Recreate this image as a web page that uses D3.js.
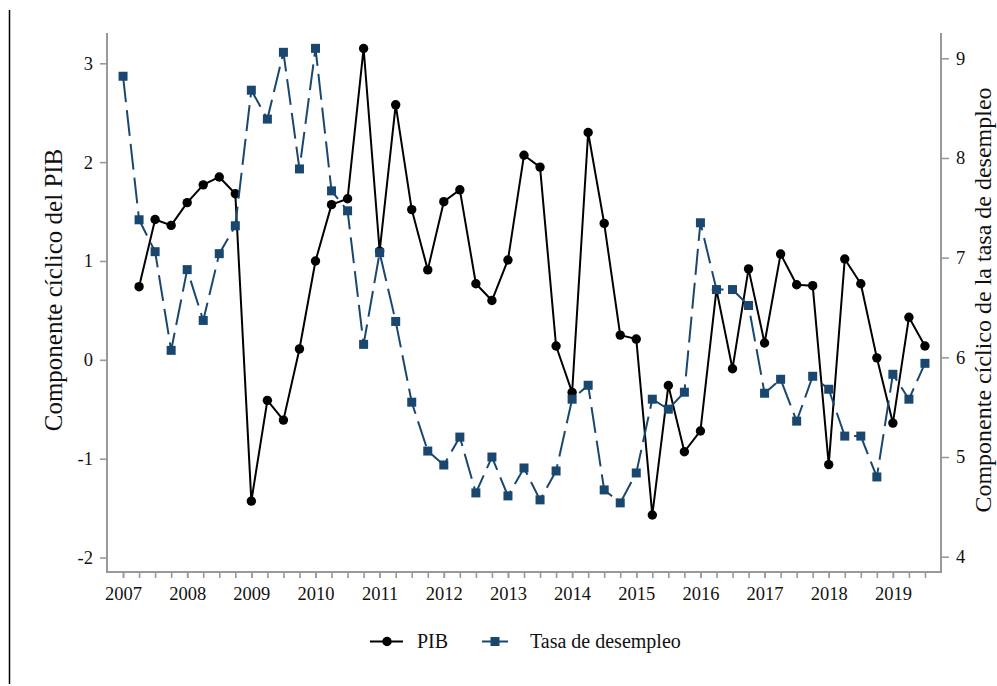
<!DOCTYPE html>
<html>
<head>
<meta charset="utf-8">
<script src="https://cdn.jsdelivr.net/npm/d3@7"></script>
<style>
  html, body { margin: 0; padding: 0; background: #fff; }
  svg { display: block; }
  text { font-family: "Liberation Serif", "Times New Roman", serif; fill: #111; }
</style>
</head>
<body>
<svg id="chart" width="997" height="686"></svg>
<script>
// Quarterly periods (decimal years)
const pibStart = 2007.25;
const desStart = 2007.0;

// Cyclical component of GDP (left axis)
const pibValues = [
  0.74, 1.42, 1.36, 1.59, 1.77, 1.85, 1.68,
  -1.43, -0.41, -0.61, 0.11,
  1.00, 1.57, 1.63, 3.15,
  1.10, 2.58, 1.52, 0.91,
  1.60, 1.72, 0.77, 0.60,
  1.01, 2.07, 1.95, 0.14,
  -0.33, 2.30, 1.38, 0.25,
  0.21, -1.57, -0.26, -0.93,
  -0.72, 0.71, -0.09, 0.92,
  0.17, 1.07, 0.76, 0.75,
  -1.06, 1.02, 0.77, 0.02,
  -0.64, 0.43, 0.14
];

// Cyclical component of the unemployment rate (right axis)
const desValues = [
  8.82, 7.38, 7.06, 6.07,
  6.88, 6.37, 7.04, 7.32,
  8.68, 8.39, 9.06, 7.89,
  9.10, 7.67, 7.47, 6.13,
  7.05, 6.36, 5.55, 5.06,
  4.92, 5.20, 4.64, 5.00,
  4.61, 4.89, 4.57, 4.86,
  5.58, 5.72, 4.67, 4.54,
  4.84, 5.58, 5.48, 5.65,
  7.35, 6.68, 6.68, 6.52,
  5.64, 5.78, 5.36, 5.81,
  5.68, 5.21, 5.21, 4.80,
  5.83, 5.58, 5.94
];

const yearTicks = d3.range(2007, 2020);
const quarterTicks = d3.range(2007, 2019.51, 0.25);
const leftTicks = [-2, -1, 0, 1, 2, 3];
const rightTicks = [4, 5, 6, 7, 8, 9];

const titleLeft = "Componente cíclico del PIB";
const titleRight = "Componente cíclico de la tasa de desempleo";
const legendLabels = ["PIB", "Tasa de desempleo"];

const pib = pibValues.map((v, i) => ({ t: pibStart + i * 0.25, v }));
const des = desValues.map((v, i) => ({ t: desStart + i * 0.25, v }));

// Frame of the plot region
const frame = { left: 107, right: 941, top: 33, bottom: 572 };
const navy = "#1a476f";
const axisGrey = "#999999";
const intLabel = d => String(d); // plain hyphen for negatives

const svg = d3.select("#chart");

const x = d3.scaleLinear().domain([2006.75, 2019.75]).range([frame.left, frame.right]);
const yL = d3.scaleLinear().domain([-2, 3]).range([557.5, 63.3]);
const yR = d3.scaleLinear().domain([4, 9]).range([556.7, 58.3]);

// thin border line on the far left
svg.append("line")
  .attr("x1", 9.5).attr("x2", 9.5).attr("y1", 10).attr("y2", 684)
  .attr("stroke", "#000").attr("stroke-width", 1.5);

// axis frame (left, bottom, right)
svg.append("path")
  .attr("d", `M${frame.left},${frame.top}V${frame.bottom}H${frame.right}V${frame.top}`)
  .attr("fill", "none").attr("stroke", axisGrey).attr("stroke-width", 2);

function styleAxis(g) {
  g.select(".domain").remove();
  g.selectAll(".tick line").attr("stroke", axisGrey).attr("stroke-width", 1.6);
  g.selectAll(".tick text")
    .attr("font-family", '"Liberation Serif", "Times New Roman", serif')
    .attr("font-size", 18.5).attr("fill", "#111");
}

// left axis
svg.append("g")
  .attr("transform", `translate(${frame.left},0)`)
  .call(d3.axisLeft(yL).tickValues(leftTicks).tickSize(7).tickPadding(7).tickFormat(intLabel))
  .call(styleAxis);

// right axis
svg.append("g")
  .attr("transform", `translate(${frame.right},0)`)
  .call(d3.axisRight(yR).tickValues(rightTicks).tickSize(8).tickPadding(7).tickFormat(intLabel))
  .call(styleAxis);

// bottom axis: quarterly ticks, labelled years
svg.append("g")
  .attr("transform", `translate(0,${frame.bottom})`)
  .call(d3.axisBottom(x).tickValues(quarterTicks).tickSize(6).tickFormat(""))
  .call(styleAxis);
svg.append("g")
  .attr("transform", `translate(0,${frame.bottom})`)
  .call(d3.axisBottom(x).tickValues(yearTicks).tickSize(6).tickPadding(9).tickFormat(intLabel))
  .call(styleAxis);

// axis titles
svg.append("text")
  .attr("transform", `translate(62,290) rotate(-90)`)
  .attr("text-anchor", "middle").attr("font-size", 25)
  .text(titleLeft);
svg.append("text")
  .attr("transform", `translate(991,300) rotate(-90)`)
  .attr("text-anchor", "middle").attr("font-size", 24)
  .text(titleRight);

// PIB series
const linePib = d3.line().x(d => x(d.t)).y(d => yL(d.v));
svg.append("path").datum(pib)
  .attr("d", linePib).attr("fill", "none")
  .attr("stroke", "#000").attr("stroke-width", 2).attr("stroke-linejoin", "round");
svg.append("g").selectAll("circle").data(pib).join("circle")
  .attr("cx", d => x(d.t)).attr("cy", d => yL(d.v)).attr("r", 4.7)
  .attr("fill", "#000");

// unemployment series
const lineDes = d3.line().x(d => x(d.t)).y(d => yR(d.v));
svg.append("path").datum(des)
  .attr("d", lineDes).attr("fill", "none")
  .attr("stroke", navy).attr("stroke-width", 2)
  .attr("stroke-dasharray", "26 8");
const sq = 9;
svg.append("g").selectAll("rect").data(des).join("rect")
  .attr("x", d => x(d.t) - sq / 2).attr("y", d => yR(d.v) - sq / 2)
  .attr("width", sq).attr("height", sq)
  .attr("fill", navy);

// legend
const ly = 641.5;
const lg = svg.append("g");
lg.append("line").attr("x1", 370).attr("x2", 403).attr("y1", ly).attr("y2", ly)
  .attr("stroke", "#000").attr("stroke-width", 2);
lg.append("circle").attr("cx", 387).attr("cy", ly).attr("r", 4.7).attr("fill", "#000");
lg.append("text").attr("x", 417).attr("y", ly + 6.5).attr("font-size", 20).text(legendLabels[0]);
lg.append("line").attr("x1", 482).attr("x2", 508).attr("y1", ly).attr("y2", ly)
  .attr("stroke", navy).attr("stroke-width", 2);
lg.append("rect").attr("x", 495 - sq / 2).attr("y", ly - sq / 2)
  .attr("width", sq).attr("height", sq).attr("fill", navy);
lg.append("text").attr("x", 530).attr("y", ly + 6.5).attr("font-size", 20).text(legendLabels[1]);
</script>
</body>
</html>
